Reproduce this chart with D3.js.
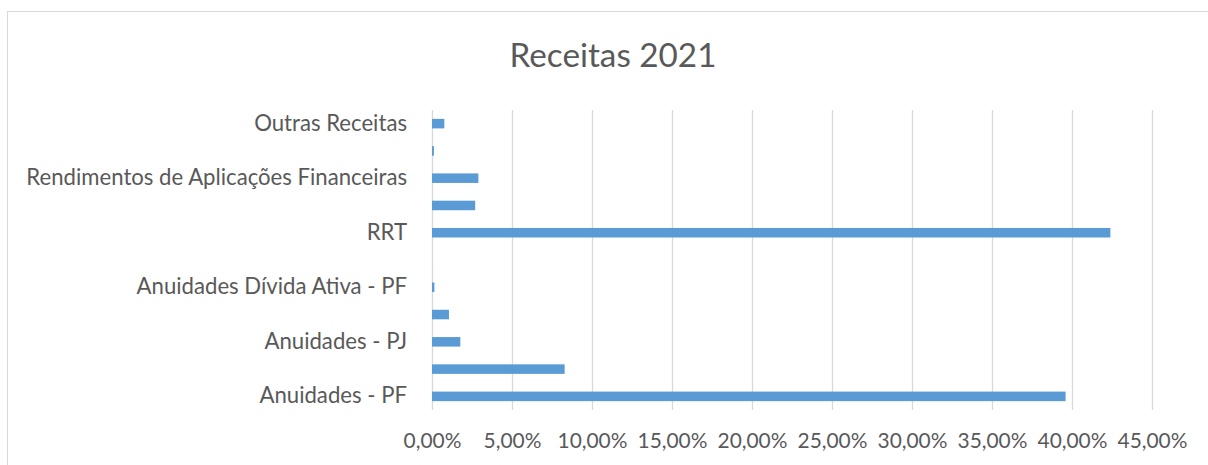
<!DOCTYPE html>
<html>
<head>
<meta charset="utf-8">
<script src="https://cdn.jsdelivr.net/npm/d3@7"></script>
<style>
  html, body { margin: 0; padding: 0; background: #fff; }
  svg { display: block; }
  text { font-family: Lato, "Noto Sans", sans-serif; fill: #595959; }
</style>
</head>
<body>
<svg id="chart" width="1208" height="465"></svg>
<script>
// Categories from bottom to top (as in the reference); unlabeled ones are hidden by the axis interval
const categories = [
  "Anuidades - PF",
  "Anuidades Exercícios Anteriores - PF",
  "Anuidades - PJ",
  "Anuidades Exercícios Anteriores - PJ",
  "Anuidades Dívida Ativa - PF",
  "Anuidades Dívida Ativa - PJ",
  "RRT",
  "Taxas e Multas",
  "Rendimentos de Aplicações Financeiras",
  "Serviços",
  "Outras Receitas"
];
const values = [0.396, 0.0829, 0.0177, 0.0106, 0.0015, 0.0, 0.424, 0.027, 0.029, 0.0012, 0.0077];
const tickValues = [0, 0.05, 0.10, 0.15, 0.20, 0.25, 0.30, 0.35, 0.40, 0.45];
const title = "Receitas 2021";

const svg = d3.select("#chart");
const plot = { left: 432, right: 1152, top: 110, bottom: 410 };

// chart border
svg.append("rect")
  .attr("x", 7.5).attr("y", 11.5)
  .attr("width", 1208).attr("height", 470)
  .attr("fill", "none").attr("stroke", "#d9d9d9").attr("stroke-width", 1);

const x = d3.scaleLinear().domain([0, 0.45]).range([plot.left, plot.right]);
const y = d3.scaleBand().domain(categories)
  .range([plot.bottom, plot.top])
  .paddingInner(0.65).paddingOuter(0.325);

function fit(sel, base, target) {
  sel.style("font-size", base + "px");
  const w = sel.node().getComputedTextLength();
  const s = base * target / w;
  sel.style("font-size", s + "px");
  return s;
}

// title
const t = svg.append("text")
  .attr("x", 613).attr("y", 67)
  .attr("text-anchor", "middle")
  .text(title);
fit(t, 37, 207);

// gridlines
svg.append("g").selectAll("line")
  .data(tickValues)
  .join("line")
  .attr("x1", d => Math.round(x(d)) + 0.5).attr("x2", d => Math.round(x(d)) + 0.5)
  .attr("y1", plot.top).attr("y2", plot.bottom)
  .attr("stroke", "#d9d9d9").attr("stroke-width", 1.3);

// bars
svg.append("g").selectAll("rect")
  .data(categories.map((c, i) => ({ c, v: values[i] })))
  .join("rect")
  .attr("x", x(0))
  .attr("y", d => y(d.c))
  .attr("width", d => x(d.v) - x(0))
  .attr("height", y.bandwidth())
  .attr("fill", "#5b9bd5");

// x axis tick labels
const fmt = d => (d * 100).toFixed(2).replace(".", ",") + "%";
const probe = svg.append("text").text(fmt(0.45));
const tickSize = fit(probe, 22, 70);
probe.remove();

const xAxis = d3.axisBottom(x).tickValues(tickValues).tickFormat(fmt).tickSize(0).tickPadding(0);
const gx = svg.append("g").attr("transform", `translate(0,${plot.bottom})`).call(xAxis);
gx.select(".domain").remove();
gx.selectAll("text")
  .attr("y", 38).attr("dy", null)
  .style("font-size", tickSize + "px")
  .style("font-family", "Lato, 'Noto Sans', sans-serif")
  .attr("fill", "#595959");

// y axis labels (every other category, as in the reference)
const probe2 = svg.append("text").text("Rendimentos de Aplicações Financeiras");
const labSize = fit(probe2, 21, 381);
probe2.remove();

const yAxis = d3.axisLeft(y)
  .tickValues(categories.filter((c, i) => i % 2 === 0))
  .tickSize(0).tickPadding(0);
const gy = svg.append("g").attr("transform", `translate(407,0)`).call(yAxis);
gy.select(".domain").remove();
gy.selectAll("text")
  .attr("dy", null)
  .attr("y", 7)
  .style("font-size", labSize + "px")
  .style("font-family", "Lato, 'Noto Sans', sans-serif")
  .attr("fill", "#595959");
</script>
</body>
</html>
